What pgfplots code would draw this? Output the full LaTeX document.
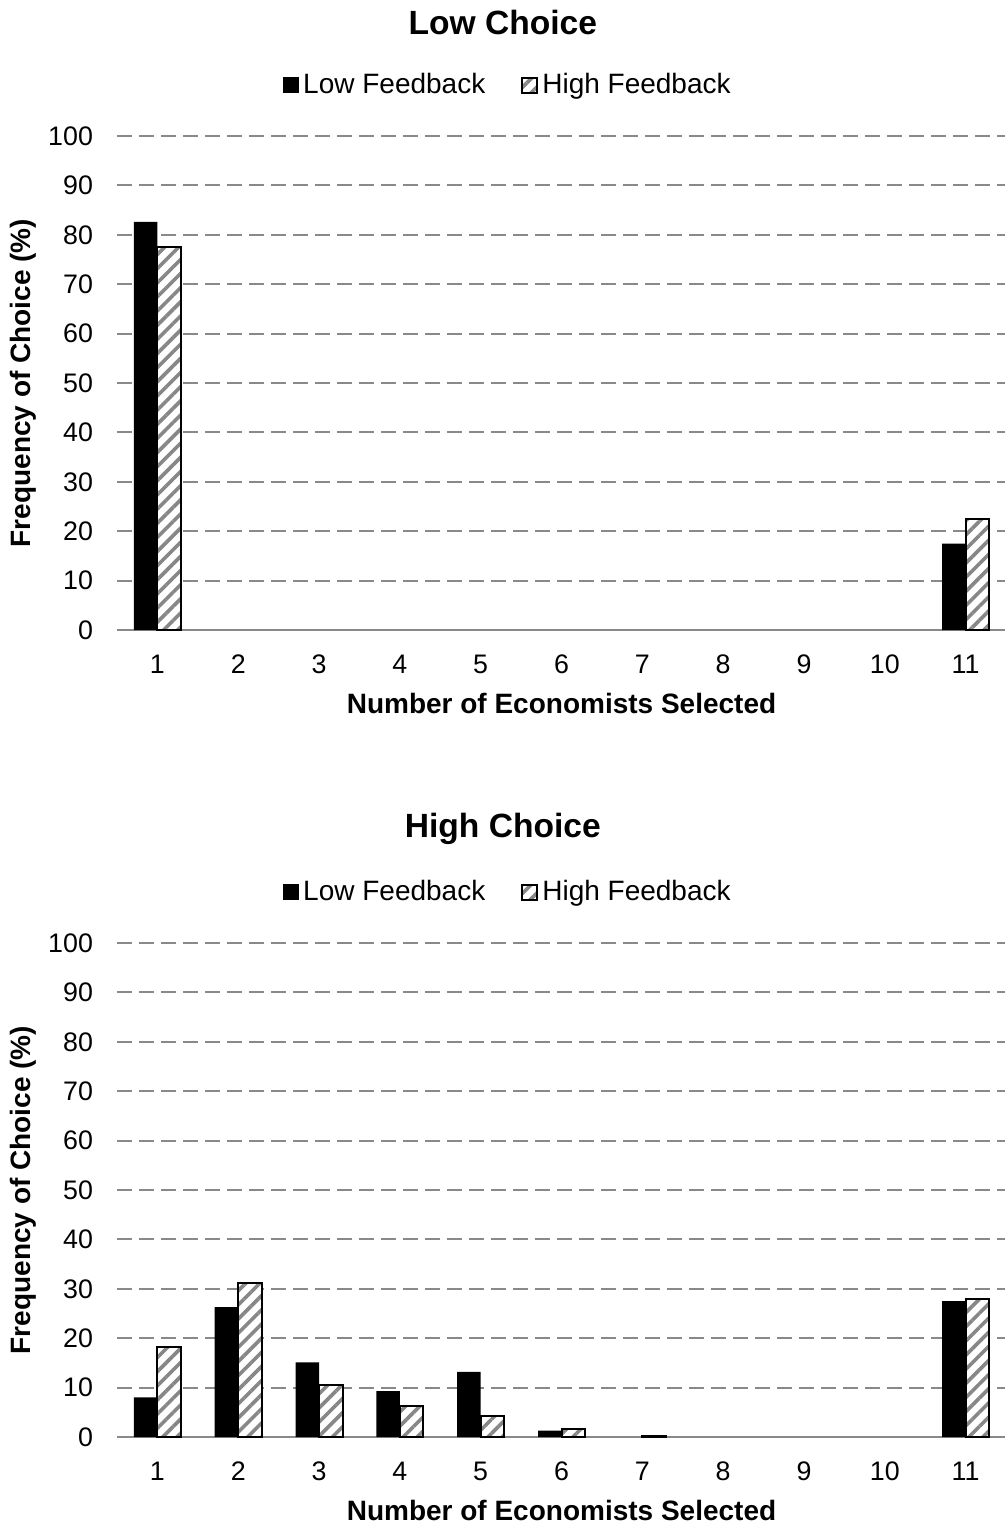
\documentclass[border=0pt]{standalone}
\usepackage{fontspec}
\setmainfont{Liberation Sans}
\usepackage{pgfplots}
\pgfplotsset{compat=1.18}
\usetikzlibrary{patterns.meta}
\definecolor{gridgray}{HTML}{898989}
\definecolor{hatchgray}{HTML}{878787}
\pgfplotsset{
  mychart/.style={
    scale only axis, width=444.5pt, height=247pt,
    xmin=0.5, xmax=11.5, ymin=0, ymax=100,
    xtick={1,...,11}, ytick={0,10,...,100},
    ybar=0pt, bar width=11.75pt,
    axis lines*=left,
    y axis line style={draw=none},
    x axis line style={draw=gridgray, line width=1pt},
    major tick length=0pt,
    ymajorgrids,
    grid style={draw=gridgray, line width=1pt, dash pattern=on 7.5pt off 3.5pt},
    /pgf/number format/assume math mode=true,
    tick label style={font=\fontsize{13.4}{15}\selectfont},
    yticklabel style={xshift=-8.5pt},
    xticklabel style={anchor=base, yshift=-21.5pt},
    xlabel={\textbf{Number of Economists Selected}},
    ylabel={\textbf{Frequency of Choice (\%)}},
    label style={font=\fontsize{14}{16}\selectfont},
    xlabel style={at={(axis description cs:0.5,-0.148)}, anchor=center},
    ylabel style={at={(axis description cs:-0.106,0.5)}, anchor=center},
    title style={at={(axis description cs:0.434,1)}, anchor=center, yshift=51pt, font=\fontsize{16.8}{18}\bfseries\selectfont},
    legend style={at={(axis description cs:0.441,1.103)}, anchor=center, draw=none, fill=none,
      legend columns=2, font=\fontsize{14}{16}\selectfont,
      /tikz/every even column/.append style={column sep=16pt}},
    legend cell align=left,
    legend image code/.code={\draw[##1] (0pt,-3.75pt) rectangle (7.5pt,3.75pt);},
  },
  lowbar/.style={fill=black, draw=none},
  highbar/.style={fill=white, draw=black, line width=1pt,
    postaction={pattern={Lines[angle=45, distance=5pt, line width=1.8pt]}, pattern color=hatchgray}},
}
\begin{document}
\begin{tikzpicture}
\useasboundingbox (0pt,0pt) rectangle (502.5pt,-764.5pt);
\begin{axis}[mychart, at={(58.5pt,-315pt)}, anchor=south west, title={Low Choice}]
\addplot[lowbar] coordinates {(1,82.6) (11,17.5)};
\addplot[highbar] coordinates {(1,77.5) (11,22.5)};
\legend{Low Feedback, High Feedback}
\end{axis}
\begin{axis}[mychart, at={(58.5pt,-718.5pt)}, anchor=south west, title={High Choice}]
\addplot[lowbar] coordinates {(1,8.0) (2,26.3) (3,15.1) (4,9.3) (5,13.2) (6,1.3) (11,27.5)};
\addplot[highbar] coordinates {(1,18.2) (2,31.1) (3,10.6) (4,6.2) (5,4.2) (6,1.7) (7,0.3) (11,28.0)};
\legend{Low Feedback, High Feedback}
\end{axis}
\end{tikzpicture}
\end{document}
